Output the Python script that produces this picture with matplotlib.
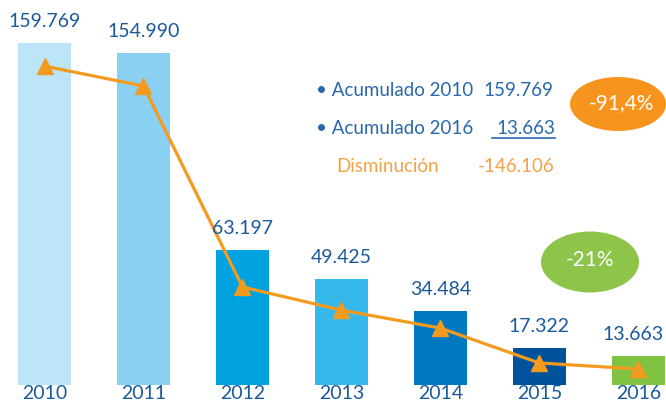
import matplotlib
matplotlib.use("Agg")
import matplotlib.pyplot as plt
from matplotlib.patches import Ellipse
from matplotlib.lines import Line2D

years = ["2010", "2011", "2012", "2013", "2014", "2015", "2016"]
values = [159769, 154990, 63197, 49425, 34484, 17322, 13663]
value_labels = ["159.769", "154.990", "63.197", "49.425", "34.484", "17.322", "13.663"]
trend = [149000, 139700, 45800, 35000, 26600, 10300, 7500]
bar_colors = ["#bde5f8", "#89d0f2", "#00a3e0", "#36b9ea", "#0179c1", "#00529b", "#80c342"]

W, H = 666, 403
plt.rcParams['font.family'] = ['Lato', 'DejaVu Sans']
fig = plt.figure(figsize=(W / 100, H / 100), dpi=100)
ax = fig.add_axes([0, 0, 1, 1])
ax.set_xlim(-0.45, 6.28)
ax.set_ylim(-8400, 179900)
ax.axis("off")

x = list(range(len(years)))
ax.bar(x, values, width=0.54, color=bar_colors, zorder=1)
ax.plot(x, trend, color="#f39a1f", lw=2.3, marker="^", ms=11,
        markerfacecolor="#f39a1f", markeredgecolor="#f39a1f", zorder=3)

dark_blue = "#1a5a9c"
for i, (xi, v, lab) in enumerate(zip(x, values, value_labels)):
    dx = -4 if i == len(x) - 1 else 0
    ax.annotate(lab, (xi, v), xytext=(dx, 15.5), textcoords="offset points",
                ha="center", va="center", fontsize=14, color=dark_blue)
for xi, yr in zip(x, years):
    ax.text(xi, 0.023, yr, transform=ax.get_xaxis_transform(), ha="center",
            va="center", fontsize=14, color=dark_blue)

def fx(px):
    return px / W

def fy(py):
    return 1 - py / H

mid_blue = "#2a68ac"
orange_txt = "#f5a145"
fs = 13.5
fig.text(fx(316), fy(90), "• Acumulado 2010", fontsize=fs, color=mid_blue,
         va="center", ha="left")
fig.text(fx(553), fy(90), "159.769", fontsize=fs, color=mid_blue,
         va="center", ha="right")
fig.text(fx(316), fy(128), "• Acumulado 2016", fontsize=fs, color=mid_blue,
         va="center", ha="left")
fig.text(fx(555), fy(128), "13.663", fontsize=fs, color=mid_blue,
         va="center", ha="right")
fig.add_artist(Line2D([fx(492), fx(555)], [fy(137.5), fy(137.5)],
                      transform=fig.transFigure, color=mid_blue, lw=1.2))
fig.text(fx(336), fy(166), "Disminución", fontsize=fs, color=orange_txt,
         va="center", ha="left")
fig.text(fx(555), fy(166), "-146.106", fontsize=fs, color=orange_txt,
         va="center", ha="right")

fig.add_artist(Ellipse((fx(618), fy(104)), 96 / W, 54 / H,
                       transform=fig.transFigure, color="#f7941d", lw=0))
fig.text(fx(621), fy(103), "-91,4%", fontsize=15, color="white",
         ha="center", va="center")
fig.add_artist(Ellipse((fx(590), fy(262)), 98 / W, 61 / H,
                       transform=fig.transFigure, color="#8dc449", lw=0))
fig.text(fx(590), fy(260), "-21%", fontsize=15, color="white",
         ha="center", va="center")

fig.savefig("out.png", dpi=100)
